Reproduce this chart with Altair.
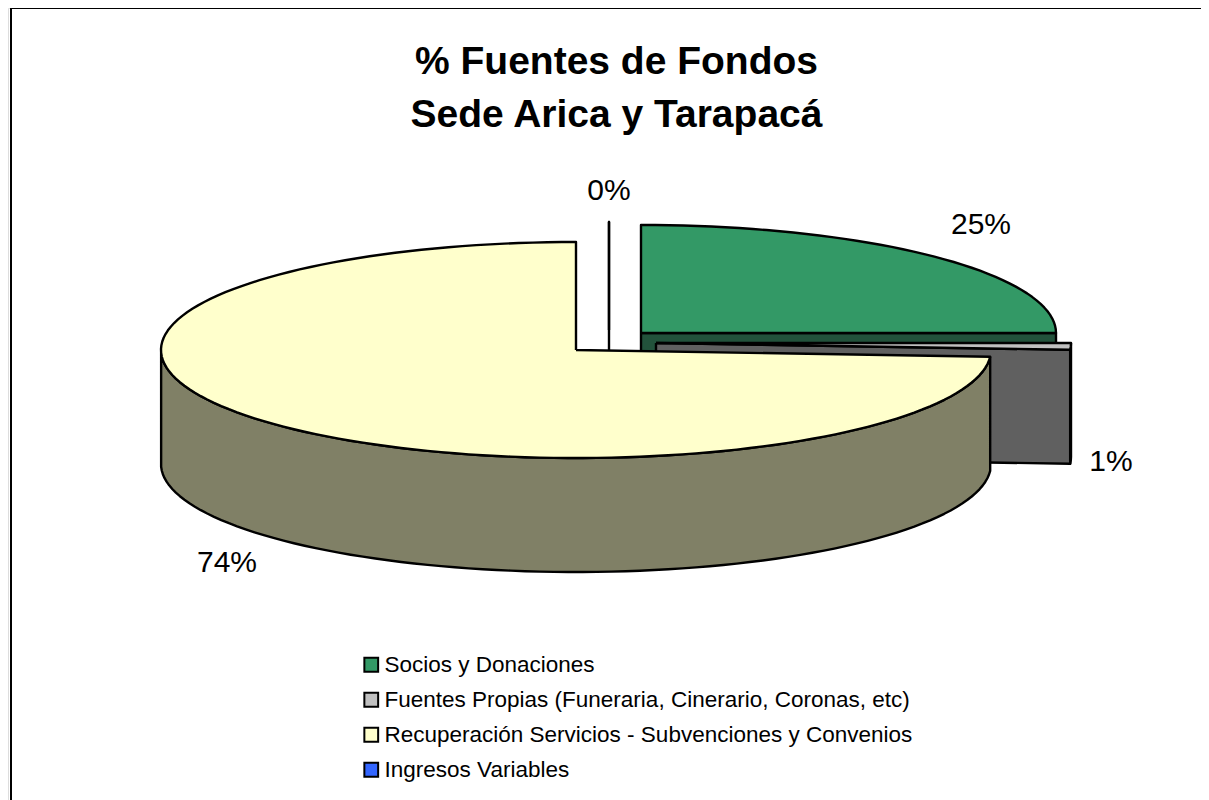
import numpy as np
import pandas as pd
import altair as alt

# ---- chart values ----
categories = [
    "Socios y Donaciones",
    "Fuentes Propias (Funeraria, Cinerario, Coronas, etc)",
    "Recuperación Servicios - Subvenciones y Convenios",
    "Ingresos Variables",
]
values = [25, 1, 74, 0]
pct_labels = ["25%", "1%", "74%", "0%"]
title_lines = ["% Fuentes de Fondos", "Sede Arica y Tarapacá"]

# ---- styles and layout ----
top_colors = ["#339966", "#C0C0C0", "#FFFFCC", "#3366FF"]
wall_colors = ["#22523B", "#606060", "#808066", "#1F3D99"]
centers = [(641, 333), (656, 343), (576, 350), (609, 330)]
label_pos = [(981, 225), (1111, 462), (227, 563), (609, 191)]
draw_order = [0, 1, 3, 2]
RX, RY, DEPTH = 415, 108, 114
X0, Y0, X1, Y1 = 8, 8, 1201, 800
FONT = "Liberation Sans"
x_scale = alt.Scale(domain=[X0, X1], range=[0, X1 - X0], zero=False, nice=False)
y_scale = alt.Scale(domain=[Y0, Y1], range=[0, Y1 - Y0], zero=False, nice=False)
X = alt.X("x:Q", scale=x_scale, axis=None)
Y = alt.Y("y:Q", scale=y_scale, axis=None)


def pt(c, a, drop=0):
    return c[0] + RX * np.sin(a), c[1] - RY * np.cos(a) + drop


def frame(points, **extra):
    d = pd.DataFrame(points, columns=["x", "y"])
    d["i"] = range(len(d))
    for k, v in extra.items():
        d[k] = v
    return d


def outline(data, **mark):
    return alt.Chart(data).mark_line(
        stroke="black", strokeWidth=2.4, strokeJoin="round", clip=False, **mark
    )


total = sum(values)
edges = np.cumsum([0] + values) / total * 2 * np.pi
layers = []
for k in draw_order:
    cat = categories[k]
    c = centers[k]
    a0, a1 = edges[k], edges[k + 1]
    n = max(2, int(np.degrees(a1 - a0) / 2) + 2)
    arc = np.linspace(a0, a1, n)

    # the cut face that looks toward the viewer
    if k != 2:
        face = [c, pt(c, a1), pt(c, a1, DEPTH), (c[0], c[1] + DEPTH), c]
        layers.append(
            outline(frame(face), fill=wall_colors[k]).encode(x=X, y=Y, order="i:Q")
        )
    # the outer wall, front half only
    front = arc[(arc >= np.pi * 0.5) & (arc <= np.pi * 1.5)]
    if len(front) > 1:
        wall = [pt(c, a) for a in front] + [pt(c, a, DEPTH) for a in front[::-1]]
        wall.append(wall[0])
        layers.append(
            outline(frame(wall), fill=wall_colors[k]).encode(x=X, y=Y, order="i:Q")
        )
    # top of the slice
    top = [c] + [pt(c, a) for a in arc] + [c]
    layers.append(
        outline(frame(top, cat=cat)).encode(
            x=X,
            y=Y,
            order="i:Q",
            fill=alt.Fill(
                "cat:N",
                scale=alt.Scale(domain=categories, range=top_colors),
                legend=alt.Legend(
                    title=None,
                    orient="none",
                    legendX=352,
                    legendY=645.5,
                    symbolType="square",
                    symbolSize=190,
                    symbolStrokeColor="black",
                    symbolStrokeWidth=2,
                    symbolOpacity=1,
                    labelFont=FONT,
                    labelFontSize=22.5,
                    labelColor="black",
                    labelLimit=700,
                    labelOffset=2,
                    rowPadding=12,
                ),
            ),
        )
    )

# percentage labels
lab = pd.DataFrame(
    {
        "x": [p[0] for p in label_pos],
        "y": [p[1] for p in label_pos],
        "t": pct_labels,
    }
)
layers.append(
    alt.Chart(lab)
    .mark_text(font=FONT, fontSize=30, color="black", align="center", baseline="middle")
    .encode(x=X, y=Y, text="t:N")
)

# chart frame: only its top and left edges fall inside the picture
layers.append(
    alt.Chart(pd.DataFrame({"x": [X0 + 3], "y": [Y0], "y2": [Y1]}))
    .mark_rule(color="black", strokeWidth=2)
    .encode(x=X, y=Y, y2="y2:Q")
)
layers.append(
    alt.Chart(pd.DataFrame({"x": [X0 + 3], "x2": [X1], "y": [Y0]}))
    .mark_rule(color="black", strokeWidth=2)
    .encode(x=X, x2="x2:Q", y=Y)
)

chart = (
    alt.layer(*layers)
    .properties(
        width=X1 - X0,
        height=Y1 - Y0,
        padding=0,
        autosize=alt.AutoSizeParams(type="none"),
        title=alt.TitleParams(
            text=title_lines,
            font=FONT,
            fontSize=39,
            fontWeight="bold",
            color="black",
            anchor="middle",
            frame="group",
            baseline="middle",
            lineHeight=53,
            dx=12,
            dy=147,
            offset=0,
        ),
    )
    .configure_view(stroke=None)
    .configure(background="white")
)

chart.save("out.html", embed_options={"renderer": "svg", "actions": False})
